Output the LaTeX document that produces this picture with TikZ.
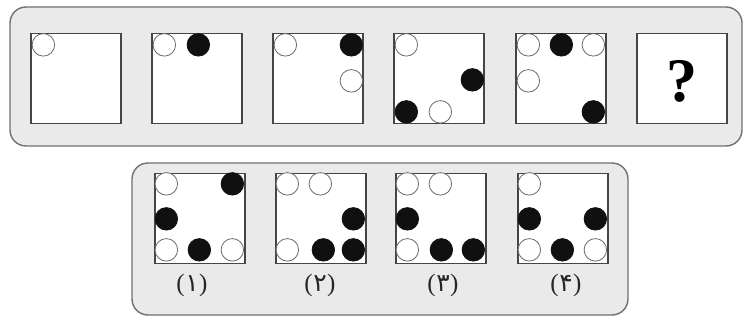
\documentclass[tikz,border=0pt]{standalone}
\usepackage{fontspec}
\usetikzlibrary{calc}
\newfontfamily\arabicfont[Script=Arabic]{DejaVu Sans}
\newfontfamily\parenfont{Liberation Serif}
\definecolor{panelfill}{HTML}{EAEAEA}
\definecolor{paneldraw}{HTML}{707070}
\definecolor{boxdraw}{HTML}{454545}
\definecolor{ringdraw}{HTML}{6A6A6A}
\definecolor{blackbead}{HTML}{101010}
\newcommand\bead[5]{\node[#5] (#1) at ($(#2.north west)+(#3,#4)$) {};}
\newcommand\optlabel[1]{{\fontsize{25}{25}\selectfont\parenfont(\kern0.5pt{\arabicfont #1}\kern0.5pt)}}
\begin{document}
\begin{tikzpicture}[x=1pt,y=-1pt,
  panel/.style={draw=paneldraw,line width=1.4pt,fill=panelfill,rounded corners=16pt,inner sep=0pt},
  box/.style={draw=boxdraw,line width=1.3pt,fill=white,minimum size=90pt,inner sep=0pt},
  wc/.style={circle,draw=ringdraw,line width=0.8pt,fill=white,minimum size=22.5pt,inner sep=0pt},
  bc/.style={circle,draw=blackbead,line width=0.8pt,fill=blackbead,minimum size=22.5pt,inner sep=0pt},
  lab/.style={inner sep=0pt,text=black!85}]
\useasboundingbox (0,0) rectangle (744,320);
% panels
\node[panel,minimum width=732pt,minimum height=139pt] (toppanel) at (376,76.5) {};
\node[panel,minimum width=496pt,minimum height=152pt] (botpanel) at (380,239) {};
% top boxes
\node[box] (t1) at (76,78.5) {};
\node[box] (t2) at (197,78.5) {};
\node[box] (t3) at (318,78.5) {};
\node[box] (t4) at (439,78.5) {};
\node[box] (t5) at (561,78.5) {};
\node[box] (t6) at (682,78.5) {};
% bottom boxes
\node[box] (o1) at (200,218.5) {};
\node[box] (o2) at (321,218.5) {};
\node[box] (o3) at (441,218.5) {};
\node[box] (o4) at (563,218.5) {};
% top beads
\bead{t1a}{t1}{13}{12}{wc}
\bead{t2a}{t2}{13}{12}{wc}
\bead{t2b}{t2}{47}{12}{bc}
\bead{t3a}{t3}{13}{12}{wc}
\bead{t3b}{t3}{79}{12}{bc}
\bead{t3c}{t3}{79}{48}{wc}
\bead{t4a}{t4}{13}{12}{wc}
\bead{t4b}{t4}{79}{47}{bc}
\bead{t4c}{t4}{13}{79}{bc}
\bead{t4d}{t4}{47}{79}{wc}
\bead{t5a}{t5}{13}{12}{wc}
\bead{t5b}{t5}{46}{12}{bc}
\bead{t5c}{t5}{78}{12}{wc}
\bead{t5d}{t5}{13}{48}{wc}
\bead{t5e}{t5}{78}{79}{bc}
\node[inner sep=0pt] (qm) at (682,81) {\fontsize{62}{62}\selectfont\parenfont\bfseries ?};
% option 1
\bead{o1a}{o1}{12}{11}{wc}
\bead{o1b}{o1}{78}{11}{bc}
\bead{o1c}{o1}{12}{46}{bc}
\bead{o1d}{o1}{12}{77}{wc}
\bead{o1e}{o1}{45}{77}{bc}
\bead{o1f}{o1}{78}{77}{wc}
% option 2
\bead{o2a}{o2}{12}{11}{wc}
\bead{o2b}{o2}{45}{11}{wc}
\bead{o2c}{o2}{78}{46}{bc}
\bead{o2d}{o2}{12}{77}{wc}
\bead{o2e}{o2}{48}{77}{bc}
\bead{o2f}{o2}{78}{77}{bc}
% option 3
\bead{o3a}{o3}{12}{11}{wc}
\bead{o3b}{o3}{45}{11}{wc}
\bead{o3c}{o3}{12}{46}{bc}
\bead{o3d}{o3}{12}{77}{wc}
\bead{o3e}{o3}{46}{77}{bc}
\bead{o3f}{o3}{78}{77}{bc}
% option 4
\bead{o4a}{o4}{12}{11}{wc}
\bead{o4b}{o4}{12}{46}{bc}
\bead{o4c}{o4}{78}{46}{bc}
\bead{o4d}{o4}{12}{77}{wc}
\bead{o4e}{o4}{45}{77}{bc}
\bead{o4f}{o4}{78}{77}{wc}
% labels
\node[lab] (l1) at (192,285) {\optlabel{۱}};
\node[lab] (l2) at (320,285) {\optlabel{۲}};
\node[lab] (l3) at (443,285) {\optlabel{۳}};
\node[lab] (l4) at (566,285) {\optlabel{۴}};
\end{tikzpicture}
\end{document}
